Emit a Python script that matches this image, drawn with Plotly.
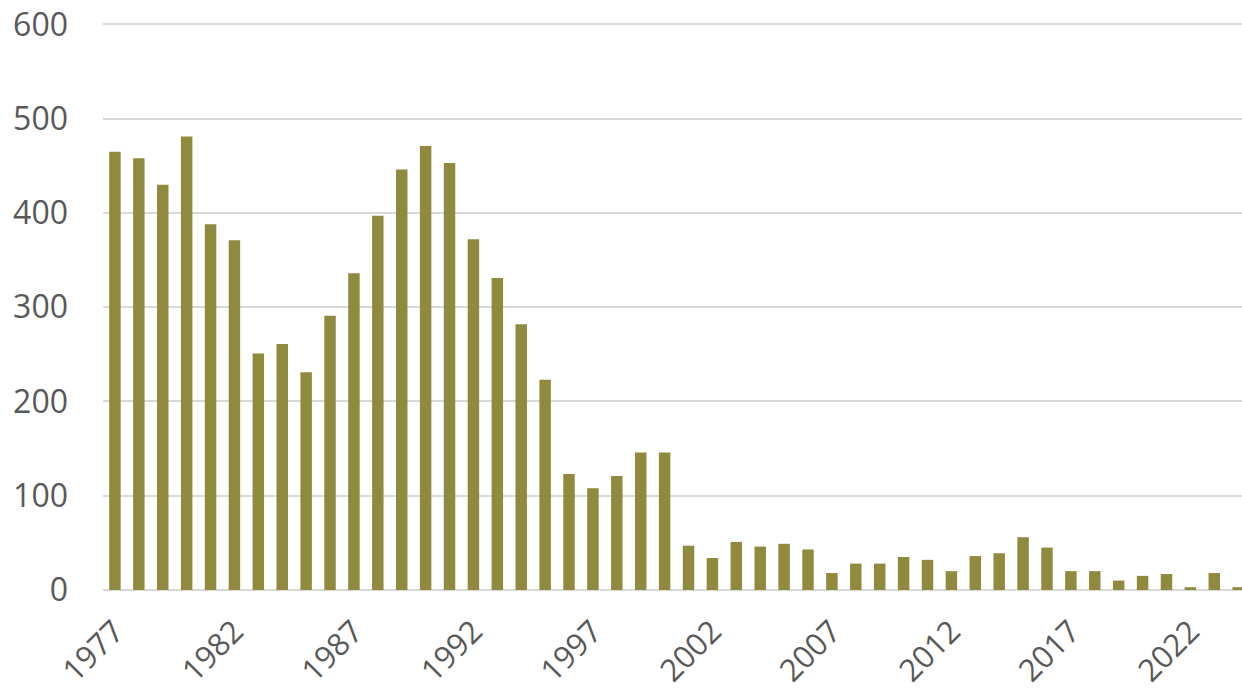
import plotly.graph_objects as go

years = list(range(1977, 2025))
values = [465, 458, 430, 481, 388, 371, 251, 261, 231, 291, 336, 397, 446,
          471, 453, 372, 331, 282, 223, 123, 108, 121, 146, 146,
          47, 34, 51, 46, 49, 43, 18, 28, 28, 35, 32, 20,
          36, 39, 56, 45, 20, 20, 10, 15, 17, 3, 18, 3]
tick_years = list(range(1977, 2025, 5))
y_ticks = [0, 100, 200, 300, 400, 500, 600]

fig = go.Figure(go.Bar(
    x=years, y=values, width=0.48,
    marker=dict(color="#8F8A3E", line=dict(width=0)),
))

fig.update_layout(
    width=1242, height=694,
    margin=dict(l=103, r=0, t=15, b=104, autoexpand=False),
    paper_bgcolor="white", plot_bgcolor="white",
    font=dict(family="Open Sans", color="#595959", size=30),
    showlegend=False,
)
fig.update_xaxes(
    range=[1976.5, 2024.16], automargin=False,
    tickmode="array", tickvals=tick_years, ticktext=[str(y) for y in tick_years],
    tickangle=-45, showgrid=False, zeroline=False, showline=False, ticks="",
    ticklabelstandoff=16, ticklabeloverflow="allow",
    tickfont=dict(size=31),
)
fig.update_yaxes(
    range=[0, 610], tickvals=y_ticks, automargin=False,
    showgrid=True, gridcolor="#D9D9D9", gridwidth=1.5,
    zeroline=True, zerolinecolor="#D9D9D9", zerolinewidth=1.5,
    showline=False, ticks="", ticklabelstandoff=34, ticklabeloverflow="allow",
    tickfont=dict(size=32),
)

fig.write_html(
    "out.html",
    config={"displayModeBar": False},
    post_script="document.body.style.margin='0';document.body.style.overflow='hidden';",
)
